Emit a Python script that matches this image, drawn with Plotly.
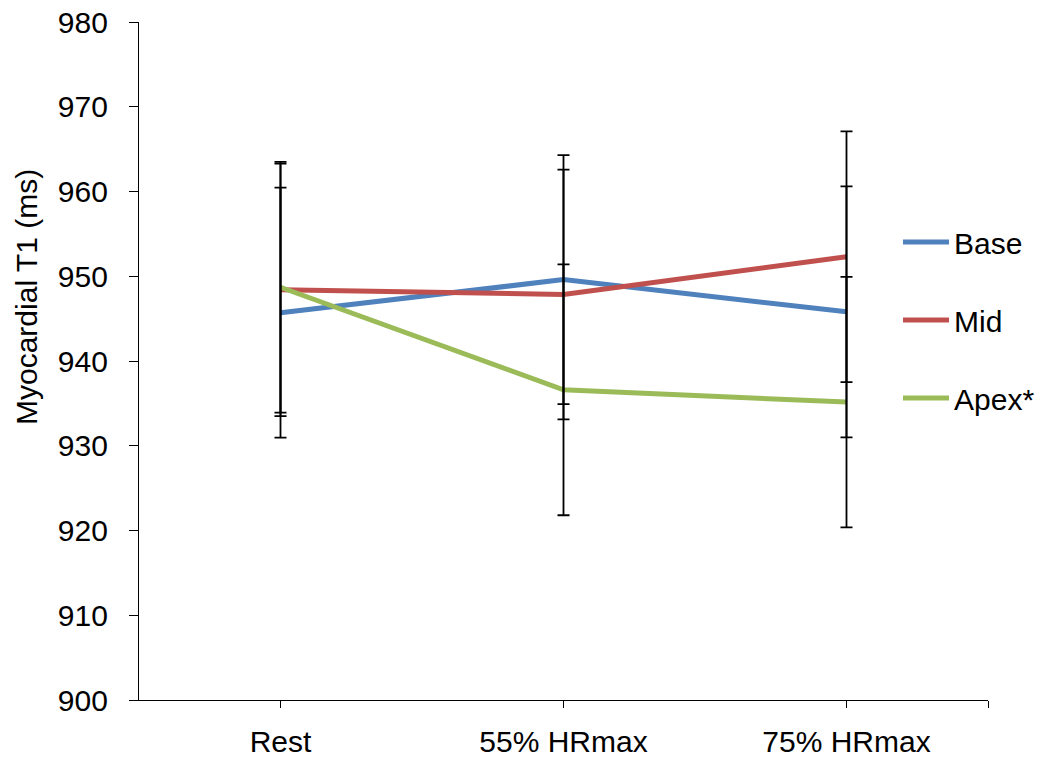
import plotly.graph_objects as go

# Exercise stage categories
stages = ["Rest", "55% HRmax", "75% HRmax"]

# Mean myocardial T1 (ms) per segment and its error (±)
base_t1 = [945.7, 949.6, 945.8]
base_err = [14.75, 14.7, 14.8]
mid_t1 = [948.4, 947.85, 952.3]
mid_err = [14.9, 14.73, 14.8]
apex_t1 = [948.7, 936.6, 935.15]
apex_err = [14.8, 14.8, 14.78]

series_names = ["Base", "Mid", "Apex*"]
series_colors = ["#4F81BD", "#C0504D", "#9BBB59"]

y_ticks = list(range(900, 990, 10))

FONT = "Liberation Sans, Arial, sans-serif"
x_pos = list(range(len(stages)))

fig = go.Figure()

series = [(base_t1, base_err), (mid_t1, mid_err), (apex_t1, apex_err)]

# Segment lines
for (vals, _), name, color in zip(series, series_names, series_colors):
    fig.add_trace(go.Scatter(
        x=x_pos, y=vals, mode="lines", name=name,
        line=dict(color=color, width=5),
        legendgroup=name, hoverinfo="skip",
    ))

# Error bars drawn on top of all lines
for (vals, errs), name in zip(series, series_names):
    fig.add_trace(go.Scatter(
        x=x_pos, y=vals, mode="markers", showlegend=False,
        marker=dict(size=1, color="rgba(0,0,0,0)"),
        error_y=dict(type="data", array=errs, visible=True,
                     color="black", thickness=1.8, width=6),
        hoverinfo="skip",
    ))

fig.update_layout(
    width=1050, height=760,
    margin=dict(l=139, r=62, t=22, b=60, autoexpand=False),
    paper_bgcolor="white", plot_bgcolor="white",
    font=dict(family=FONT, size=30, color="black"),
    showlegend=True,
    legend=dict(
        x=(898 - 139) / 849, xanchor="left", y=0.714, yanchor="top",
        bgcolor="rgba(0,0,0,0)", traceorder="grouped",
        tracegroupgap=36, itemwidth=46,
        font=dict(size=30, family=FONT, color="black"),
    ),
    xaxis=dict(
        range=[-0.5, 2.5], automargin=False,
        tickvals=x_pos + [2.5], ticktext=stages + [""],
        ticks="outside", ticklen=7, tickwidth=1.3, tickcolor="black",
        ticklabelstandoff=8,
        showline=True, linecolor="black", linewidth=1.3,
        showgrid=False, zeroline=False,
        tickfont=dict(size=30, family=FONT, color="black"),
    ),
    yaxis=dict(
        range=[900, 980], tickvals=y_ticks, automargin=False,
        ticks="outside", ticklen=9, tickwidth=1.3, tickcolor="black",
        ticklabelstandoff=15,
        showline=True, linecolor="black", linewidth=1.3,
        showgrid=False, zeroline=False,
        tickfont=dict(size=30, family=FONT, color="black"),
    ),
    annotations=[dict(
        text="Myocardial T1 (ms)", textangle=-90,
        xref="paper", yref="paper",
        x=(26 - 139) / 849, y=(700 - 297) / 678,
        xanchor="center", yanchor="middle", showarrow=False,
        font=dict(size=30, family=FONT, color="black"),
    )],
)

fig.write_html("out.html")
